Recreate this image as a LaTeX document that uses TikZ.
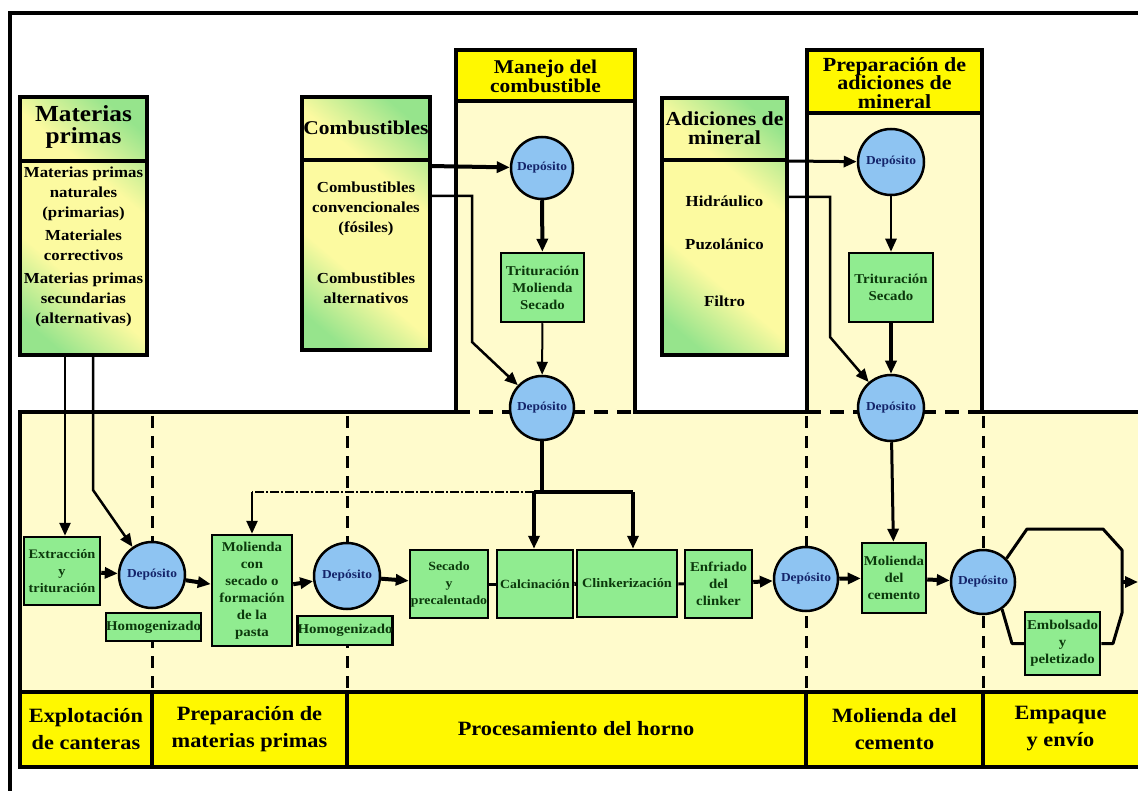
\documentclass[tikz,border=0pt]{standalone}
\usepackage{fontspec}
\setmainfont{Liberation Serif}[FakeStretch=1.1]
\usetikzlibrary{arrows.meta}
\definecolor{gG}{RGB}{150,228,140}
\definecolor{gY}{RGB}{252,250,160}
\definecolor{panel}{RGB}{255,251,204}
\definecolor{hyellow}{RGB}{255,248,0}
\definecolor{lgreen}{RGB}{144,236,144}
\definecolor{cblue}{RGB}{142,196,242}
\definecolor{navy}{RGB}{20,36,106}
\definecolor{dgreen}{RGB}{12,56,12}
\pgfdeclarehorizontalshading{yg}{100bp}{color(0bp)=(gG); color(22bp)=(gG); color(38bp)=(gY); color(62bp)=(gY); color(78bp)=(gG); color(100bp)=(gG)}
\begin{document}
\begin{tikzpicture}[x=1pt,y=-1pt,
  frame/.style={line width=3.5pt},
  gradbox/.style={draw=black,line width=3.5pt,shading=yg,shading angle=50,inner sep=0},
  gbox/.style={draw=black,line width=2.5pt,fill=lgreen,inner sep=0,align=center,text=dgreen,font=\bfseries\fontsize{13.5}{17}\selectfont},
  dep/.style={circle,draw=black,line width=2.5pt,fill=cblue,minimum size=62pt,inner sep=0,text=navy,font=\bfseries\fontsize{12.2}{13}\selectfont},
  hdr/.style={align=center,font=\bfseries\fontsize{19.5}{19}\selectfont},
  body/.style={align=center,font=\bfseries\fontsize{15.3}{20}\selectfont},
  lbl/.style={align=center,font=\bfseries\fontsize{20.3}{27}\selectfont},
  tip/.style={-{Triangle[length=13pt,width=11pt]}},
  divd/.style={line width=3pt,dash pattern=on 12pt off 8pt}
]
\useasboundingbox (0,0) rectangle (1138,791);
\fill[white] (0,0) rectangle (1138,791);
\draw[line width=4pt] (10,791) -- (10,13) -- (1138,13);

% panels
\fill[panel] (20,412) rectangle (1138,692);
\fill[panel] (456,50) rectangle (635,412);
\fill[hyellow] (456,50) rectangle (635,101);
\fill[panel] (807,50) rectangle (982,412);
\fill[hyellow] (807,50) rectangle (982,113);
\draw[frame] (456,414) -- (456,50) -- (635,50) -- (635,414);
\draw[frame] (456,101) -- (635,101);
\draw[frame] (807,414) -- (807,50) -- (982,50) -- (982,414);
\draw[frame] (807,113) -- (982,113);
\draw[frame] (20,692) -- (20,412) -- (456,412);
\draw[frame] (635,412) -- (807,412);
\draw[frame] (982,412) -- (1138,412);
\draw[frame,dash pattern=on 14pt off 9pt] (456,412) -- (635,412);
\draw[frame,dash pattern=on 14pt off 9pt] (807,412) -- (982,412);

% vertical dashed dividers
\draw[divd] (152,416) -- (152,692);
\draw[divd] (347,416) -- (347,692);
\draw[divd] (806,416) -- (806,692);
\draw[divd] (983,416) -- (983,692);

% bottom bar
\fill[hyellow] (20,692) rectangle (1138,767);
\draw[frame] (1138,692) -- (20,692) -- (20,767) -- (1138,767);
\foreach \xx in {152,347,806,983} \draw[frame] (\xx,692) -- (\xx,767);
\node[lbl] (l1) at (86,729) {Explotación\\de canteras};
\node[lbl] (l2) at (249.5,729) {Preparación de\\materias primas};
\node[lbl] (l3) at (576,729) {Procesamiento del horno};
\node[lbl] (l4) at (894.5,729) {Molienda del\\cemento};
\node[lbl] (l5) at (1060.5,729) {Empaque\\y envío};

% headers
\node[hdr] (hman) at (545.5,76) {Manejo del\\combustible};
\node[hdr,font=\bfseries\fontsize{20}{18.5}\selectfont] (hprep) at (894.5,83) {Preparación de\\adiciones de\\mineral};

% source boxes
\node[gradbox,minimum width=127pt,minimum height=258pt] (mp) at (83.5,226) {};
\draw[frame] (20,161) -- (147,161);
\node[hdr,font=\bfseries\fontsize{23}{22.5}\selectfont] (mph) at (83.5,127) {Materias\\primas};
\node[body] (mpb) at (83.5,247) {Materias primas\\naturales\\(primarias)\\[3pt]Materiales\\correctivos\\[3pt]Materias primas\\secundarias\\(alternativas)};

\node[gradbox,minimum width=128pt,minimum height=253pt] (cb) at (366,223.5) {};
\draw[frame] (302,160) -- (430,160);
\node[hdr] (cbh) at (366,128) {Combustibles};
\node[body] (cb1) at (366,209) {Combustibles\\convencionales\\(fósiles)};
\node[body] (cb2) at (366,288) {Combustibles\\alternativos};

\node[gradbox,minimum width=125pt,minimum height=257pt] (ad) at (724.5,226.5) {};
\draw[frame] (662,160) -- (787,160);
\node[hdr,font=\bfseries\fontsize{19.8}{19.5}\selectfont] (adh) at (724.5,128) {Adiciones de\\mineral};
\node[body] (ad1) at (724.5,201) {Hidráulico};
\node[body] (ad2) at (724.5,244) {Puzolánico};
\node[body] (ad3) at (724.5,301) {Filtro};

% fuel column
\node[dep] (fd1) at (542,168) {Depósito};
\node[gbox,minimum width=83pt,minimum height=69pt] (tms) at (542.5,287.5) {Trituración\\Molienda\\Secado};
\node[dep,minimum size=64pt] (fd2) at (542,408) {Depósito};

% mineral column
\node[dep,minimum size=66pt] (md1) at (891,162) {Depósito};
\node[gbox,minimum width=84pt,minimum height=69pt] (tsec) at (891,287.5) {Trituración\\Secado};
\node[dep,minimum size=66pt] (md2) at (891,408) {Depósito};

% main row
\node[gbox,minimum width=76pt,minimum height=68pt,font=\bfseries\fontsize{13}{17}\selectfont] (ext) at (62,571) {Extracción\\y\\trituración};
\node[gbox,minimum width=93pt,minimum height=28pt] (hom1) at (153.5,627) {Homogenizado};
\node[dep,minimum size=66pt] (dA) at (152,575) {Depósito};
\node[gbox,minimum width=80pt,minimum height=111pt] (mol) at (252,590.5) {Molienda\\con\\secado o\\formación\\de la\\pasta};
\node[gbox,minimum width=94pt,minimum height=29pt] (hom2) at (345,630.5) {Homogenizado};
\node[dep,minimum size=66pt] (dB) at (347,576) {Depósito};
\node[gbox,minimum width=78pt,minimum height=68pt,font=\bfseries\fontsize{12.5}{17}\selectfont] (sec) at (449,584) {Secado\\y\\precalentado};
\node[gbox,minimum width=76pt,minimum height=68pt,font=\bfseries\fontsize{12.5}{17}\selectfont] (cal) at (535,584) {Calcinación};
\node[gbox,minimum width=100pt,minimum height=67pt,font=\bfseries\fontsize{13}{17}\selectfont] (cli) at (627,583.5) {Clinkerización};
\node[gbox,minimum width=67pt,minimum height=68pt] (enf) at (718.5,584) {Enfriado\\del\\clinker};
\node[dep,minimum size=64pt] (dC) at (806,579) {Depósito};
\node[gbox,minimum width=64pt,minimum height=70pt] (molc) at (894,578) {Molienda\\del\\cemento};
\node[dep,minimum size=64pt] (dD) at (983,582) {Depósito};
\node[gbox,minimum width=75pt,minimum height=63pt] (emb) at (1062.5,643.5) {Embolsado\\y\\peletizado};

% coordinates
\coordinate (mpa) at (65,355);
\coordinate (mpb1) at (93,355);
\coordinate (mpb2) at (93,490);
\coordinate (cba) at (430,166);
\coordinate (cbb1) at (430,196);
\coordinate (cbb2) at (472,196);
\coordinate (cbb3) at (472,342);
\coordinate (ada) at (787,161);
\coordinate (adb1) at (787,197);
\coordinate (adb2) at (830,197);
\coordinate (adb3) at (830,337);
\coordinate (fb) at (542,492);
\coordinate (bl) at (534,492);
\coordinate (br) at (633,492);
\coordinate (dd) at (252,492);
\coordinate (u1) at (1027,529);
\coordinate (u2) at (1103,529);
\coordinate (u3) at (1122,550);
\coordinate (jn) at (1122,582);
\coordinate (lw1) at (1012,643.5);
\coordinate (lw2) at (1113,643.5);
\coordinate (lw3) at (1122,613);
\coordinate (outp) at (1138,582);

% connectors top
\draw[line width=2.5pt,tip] (mpa) -- (mpa |- ext.north);
\draw[line width=2.5pt,tip] (mpb1) -- (mpb2) -- (dA);
\draw[line width=4pt,tip] (cba) -- (fd1);
\draw[line width=2.5pt,tip] (cbb1) -- (cbb2) -- (cbb3) -- (fd2);
\draw[line width=4pt,tip] (fd1) -- (tms);
\draw[line width=2pt,tip] (tms) -- (fd2);
\draw[line width=3pt,tip] (ada) -- (md1);
\draw[line width=2.5pt,tip] (adb1) -- (adb2) -- (adb3) -- (md2);
\draw[line width=2.5pt,tip] (md1) -- (tsec);
\draw[line width=4pt,tip] (tsec) -- (md2);
\draw[line width=3pt,tip] (md2) -- (molc);
\draw[line width=3.5pt] (fd2) -- (fb);
\draw[line width=3.5pt] (bl) -- (br);
\draw[line width=3.5pt,tip] (bl) -- (bl |- cal.north);
\draw[line width=3.5pt,tip] (br) -- (br |- cli.north);
\draw[line width=2pt,dash pattern=on 9pt off 2pt on 2pt off 2pt] (bl) -- (dd);
\draw[line width=2.5pt,tip] (dd) -- (mol.north);

% main row flow
\draw[line width=4pt,tip] (ext) -- (dA);
\draw[line width=4pt,tip] (dA) -- (mol);
\draw[line width=4pt,tip] (mol) -- (dB);
\draw[line width=4pt,tip] (dB) -- (sec);
\draw[line width=3pt] (sec) -- (cal);
\draw[line width=4pt] (cal) -- (cli);
\draw[line width=3pt] (cli) -- (enf);
\draw[line width=4pt,tip] (enf) -- (dC);
\draw[line width=4pt,tip] (dC) -- (molc);
\draw[line width=4pt,tip] (molc) -- (dD);
\draw[line width=3pt,line join=round] (dD.45) -- (u1) -- (u2) -- (u3) -- (lw3) -- (lw2) -- (emb.east);
\draw[line width=3pt,line join=round] (dD.-55) -- (lw1) -- (emb.west);
\draw[line width=3.5pt,tip] (jn) -- (outp);
\end{tikzpicture}
\end{document}
